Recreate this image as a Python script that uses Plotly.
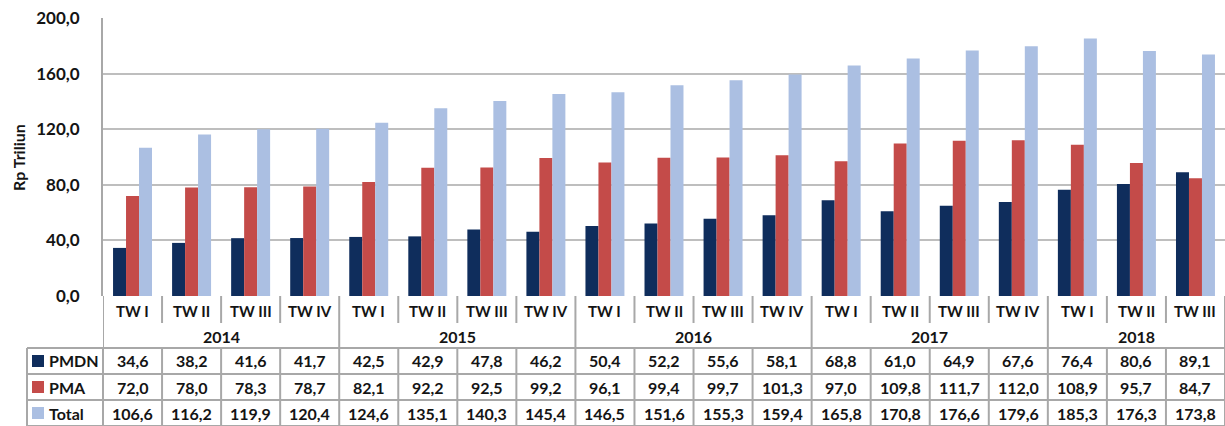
import plotly.graph_objects as go

# ---- data ----
quarters = ["TW I", "TW II", "TW III", "TW IV",
            "TW I", "TW II", "TW III", "TW IV",
            "TW I", "TW II", "TW III", "TW IV",
            "TW I", "TW II", "TW III", "TW IV",
            "TW I", "TW II", "TW III"]
years = ["2014", "2015", "2016", "2017", "2018"]
quarters_per_year = [4, 4, 4, 4, 3]
pmdn = [34.6, 38.2, 41.6, 41.7, 42.5, 42.9, 47.8, 46.2, 50.4, 52.2, 55.6, 58.1,
        68.8, 61.0, 64.9, 67.6, 76.4, 80.6, 89.1]
pma = [72.0, 78.0, 78.3, 78.7, 82.1, 92.2, 92.5, 99.2, 96.1, 99.4, 99.7, 101.3,
       97.0, 109.8, 111.7, 112.0, 108.9, 95.7, 84.7]
total = [106.6, 116.2, 119.9, 120.4, 124.6, 135.1, 140.3, 145.4, 146.5, 151.6, 155.3, 159.4,
         165.8, 170.8, 176.6, 179.6, 185.3, 176.3, 173.8]
series_names = ["PMDN", "PMA", "Total"]
y_ticks = [0, 40, 80, 120, 160, 200]
y_tick_text = ["0,0", "40,0", "80,0", "120,0", "160,0", "200,0"]

# ---- style ----
colors = ["#0F2D5C", "#C44B49", "#ABBFE2"]
grid_col = "#BEBEBE"
line_col = "#A8A8A8"
text_col = "#141414"
FONT = "Lato"

W, H = 1225, 426
ML, MR, MT, MB = 103, 0, 18, 130
plot_w = W - ML - MR
plot_h = H - MT - MB


def py(p):
    """pixel row -> paper y"""
    return (H - MB - p) / plot_h


def px(p):
    """pixel column -> paper x"""
    return (p - ML) / plot_w


def fmt(v):
    return f"{v:.1f}".replace(".", ",")


n = len(quarters)
xs = list(range(n))
all_series = [pmdn, pma, total]

fig = go.Figure()
for name, vals, c in zip(series_names, all_series, colors):
    fig.add_trace(go.Bar(x=xs, y=vals, name=name, marker=dict(color=c, line=dict(width=0)),
                         showlegend=False))

shapes = []
annotations = []

# row positions (pixels)
cat_row = 311
year_row = 336
table_top = 348
row_centers = [361, 387, 413]
row_lines = [348, 374, 400, 426]
tick_bottom = 323
left_col = 27

# category labels
for i, q in enumerate(quarters):
    annotations.append(dict(x=i, y=py(cat_row), xref="x", yref="paper", text=q, showarrow=False,
                            font=dict(family=FONT, size=15, color=text_col, weight="bold"),
                            xanchor="center", yanchor="middle"))

# short separators between quarters inside a year, long ones between years
boundaries = []
start = 0
for k in quarters_per_year:
    boundaries.append(start)
    start += k
boundaries.append(start)

for i in range(n + 1):
    xb = i - 0.5
    if i in boundaries:
        y1 = py(table_top)
    else:
        y1 = py(tick_bottom)
    if i == 0:
        y1 = py(row_lines[-1])
    shapes.append(dict(type="line", xref="x", yref="paper", x0=xb, x1=xb, y0=py(H - MB), y1=y1,
                       line=dict(color=line_col, width=2)))
    # data table verticals
    shapes.append(dict(type="line", xref="x", yref="paper", x0=xb, x1=xb,
                       y0=py(table_top), y1=py(row_lines[-1]),
                       line=dict(color=line_col, width=2)))

# year labels
start = 0
for yr, k in zip(years, quarters_per_year):
    idx = xs[start:start + k]
    annotations.append(dict(x=sum(idx) / len(idx), y=py(year_row), xref="x", yref="paper", text=yr,
                            showarrow=False,
                            font=dict(family=FONT, size=16, color=text_col, weight="bold"),
                            xanchor="center", yanchor="middle"))
    start += k

# table horizontal lines
for r in row_lines:
    shapes.append(dict(type="line", xref="paper", yref="paper", x0=px(left_col), x1=1.0,
                       y0=py(r), y1=py(r), line=dict(color=line_col, width=2)))
# legend column verticals
for xp in [left_col, ML]:
    shapes.append(dict(type="line", xref="paper", yref="paper", x0=px(xp), x1=px(xp),
                       y0=py(table_top), y1=py(row_lines[-1]), line=dict(color=line_col, width=2)))

# table values
for r, vals in zip(row_centers, all_series):
    for i, v in enumerate(vals):
        annotations.append(dict(x=i, y=py(r), xref="x", yref="paper", text=fmt(v), showarrow=False,
                                font=dict(family=FONT, size=16, color=text_col, weight="bold"),
                                xanchor="center", yanchor="middle"))

# legend keys in table
for r, name, c in zip(row_centers, series_names, colors):
    shapes.append(dict(type="rect", xref="paper", yref="paper", x0=px(32), x1=px(44),
                       y0=py(r + 6), y1=py(r - 6), fillcolor=c, line=dict(width=0)))
    annotations.append(dict(x=px(47), y=py(r), xref="paper", yref="paper", text=name,
                            showarrow=False,
                            font=dict(family=FONT, size=16, color=text_col, weight="bold"),
                            xanchor="left", yanchor="middle"))

# y axis title
annotations.append(dict(x=px(18), y=py(158), xref="paper", yref="paper", text="Rp Triliun",
                        showarrow=False, textangle=-90,
                        font=dict(family=FONT, size=16, color=text_col, weight="bold"),
                        xanchor="center", yanchor="middle"))

fig.update_layout(
    width=W, height=H,
    margin=dict(l=ML, r=MR, t=MT, b=MB, autoexpand=False),
    paper_bgcolor="white", plot_bgcolor="white",
    barmode="group", bargap=0.34, bargroupgap=0,
    xaxis=dict(range=[-0.5, n - 0.5], showticklabels=False, showgrid=False, zeroline=False,
               ticks="", fixedrange=True),
    yaxis=dict(range=[0, 200], tickvals=y_ticks, ticktext=y_tick_text, showgrid=True,
               gridcolor=grid_col, gridwidth=2, zeroline=False, showline=True,
               linecolor=line_col, linewidth=2, ticks="", ticklabelstandoff=18,
               tickfont=dict(family=FONT, size=17, color=text_col, weight="bold")),
    shapes=shapes,
    annotations=annotations,
)

fig.write_html("out.html")
